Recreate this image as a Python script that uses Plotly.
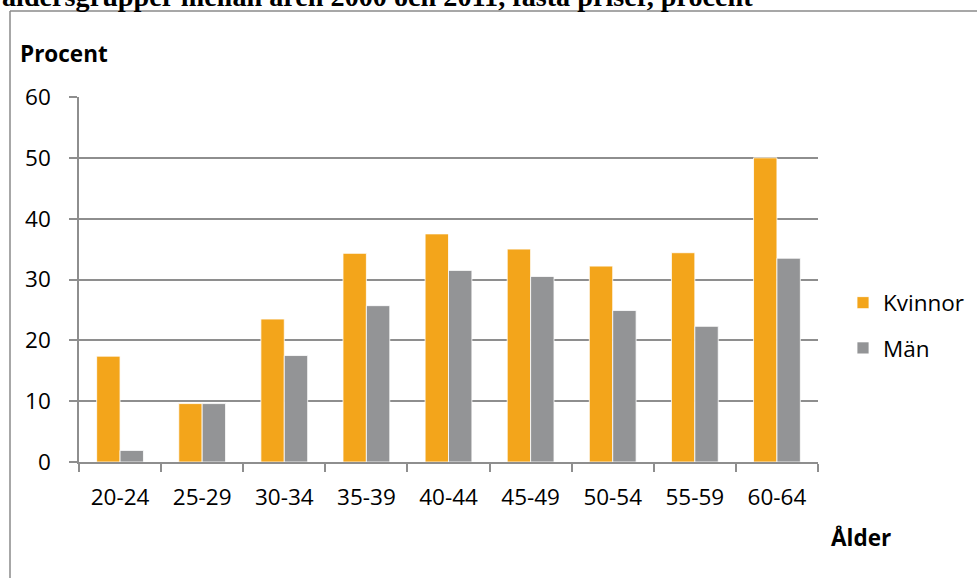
import plotly.graph_objects as go

categories = ["20-24", "25-29", "30-34", "35-39", "40-44", "45-49", "50-54", "55-59", "60-64"]
kvinnor = [17.4, 9.6, 23.5, 34.3, 37.5, 35.0, 32.2, 34.4, 50.0]
man = [1.9, 9.6, 17.5, 25.7, 31.5, 30.5, 24.9, 22.3, 33.5]
y_ticks = [0, 10, 20, 30, 40, 50, 60]

W, H = 977, 578
L, R, T, B = 79, 818, 97, 462  # plot area in pixels
pw, ph = R - L, B - T

def px(x):
    return (x - L) / pw

def py(y):
    return (B - y) / ph

ORANGE = "#F3A51B"
GRAY = "#939496"
LINE = "#8E8E8E"
FONT = "Open Sans"
FS = 22.5

fig = go.Figure()
fig.add_trace(go.Bar(x=categories, y=kvinnor, name="Kvinnor", legendgroup="k",
                     marker=dict(color=ORANGE, line=dict(color="rgba(255,255,255,0.8)", width=1))))
fig.add_trace(go.Bar(x=categories, y=man, name="Män", legendgroup="m",
                     marker=dict(color=GRAY, line=dict(color="rgba(255,255,255,0.8)", width=1))))

fig.update_layout(
    width=W, height=H,
    margin=dict(l=L, r=W - R, t=T, b=H - B, autoexpand=False),
    paper_bgcolor="white", plot_bgcolor="white",
    barmode="group", bargap=0.43, bargroupgap=0,
    font=dict(family=FONT, size=FS, color="black"),
    legend=dict(x=px(843), y=py(325.5), xanchor="left", yanchor="middle",
                font=dict(size=FS), tracegroupgap=13, traceorder="grouped",
                bgcolor="rgba(0,0,0,0)"),
    xaxis=dict(showline=True, linecolor=LINE, linewidth=1.5,
               ticks="outside", ticklen=8, tickcolor=LINE, tickwidth=1.5,
               tickson="boundaries", showgrid=False, ticklabelstandoff=14,
               tickfont=dict(size=FS, family=FONT)),
    yaxis=dict(range=[0, 60], tickvals=y_ticks, showline=True, linecolor=LINE, linewidth=1.5,
               ticks="outside", ticklen=8, tickcolor=LINE, tickwidth=1.5,
               showgrid=True, gridcolor=LINE, gridwidth=1.5, zeroline=False,
               ticklabelstandoff=14, tickfont=dict(size=FS, family=FONT)),
)

# outer frame (left and top edges)
fig.add_shape(type="line", xref="paper", yref="paper", x0=px(10), x1=px(10), y0=py(11), y1=py(600),
              line=dict(color="#8A8A8A", width=1.5))
fig.add_shape(type="line", xref="paper", yref="paper", x0=px(10), x1=px(1000), y0=py(11), y1=py(11),
              line=dict(color="#8A8A8A", width=1.5))

# cut-off title at the very top (as in the source, only its lower part is on the page)
fig.add_annotation(text="<b>åldersgrupper mellan åren 2000 och 2011, fasta priser, procent</b>",
                   xref="paper", yref="paper", x=px(0), y=py(14.5), xanchor="left", yanchor="bottom",
                   showarrow=False, font=dict(family="Liberation Serif", size=28.2, color="black"))

fig.add_annotation(text="<b>Procent</b>", xref="paper", yref="paper", x=px(18), y=py(53),
                   xanchor="left", yanchor="middle", showarrow=False,
                   font=dict(family=FONT, size=FS, color="black"))
fig.add_annotation(text="<b>Ålder</b>", xref="paper", yref="paper", x=px(829), y=py(537),
                   xanchor="left", yanchor="middle", showarrow=False,
                   font=dict(family=FONT, size=FS, color="black"))

fig.write_html("out.html", config={"displayModeBar": False},
               post_script="document.body.style.margin='0';document.body.style.overflow='hidden';")
